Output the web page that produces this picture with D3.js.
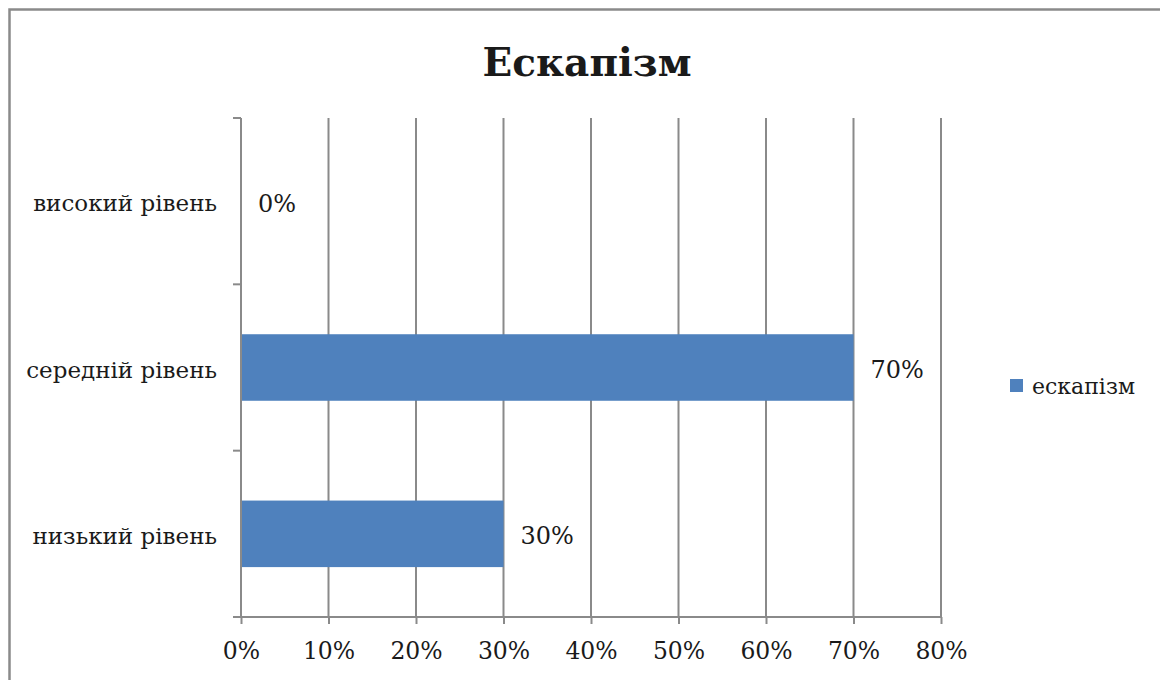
<!DOCTYPE html>
<html>
<head>
<meta charset="utf-8">
<script src="https://cdn.jsdelivr.net/npm/d3@7"></script>
<style>
  html, body { margin: 0; padding: 0; background: #fff; }
  svg { display: block; }
  text { font-family: "DejaVu Serif", "Liberation Serif", serif; fill: #1a1a1a; }
</style>
</head>
<body>
<svg id="chart" width="1160" height="680"></svg>
<script>
// Chart data
const title = "Ескапізм";
const seriesName = "ескапізм";
const categories = ["високий рівень", "середній рівень", "низький рівень"];
const values = [0, 0.70, 0.30];
const tickValues = [0, 0.1, 0.2, 0.3, 0.4, 0.5, 0.6, 0.7, 0.8];

const W = 1160, H = 680;
const plot = { left: 241, right: 941, top: 118, bottom: 617 };
const gridColor = "#8a8a8a";
const barColor = "#4f81bd";
const pct = d3.format(".0%");

const svg = d3.select("#chart");

// Outer frame
svg.append("rect")
  .attr("x", 9.5).attr("y", 9.5)
  .attr("width", W + 20).attr("height", H + 20)
  .attr("fill", "#fff")
  .attr("stroke", gridColor)
  .attr("stroke-width", 2.5);

const x = d3.scaleLinear().domain([0, 0.8]).range([plot.left, plot.right]);
const y = d3.scaleBand().domain(categories).range([plot.top, plot.bottom]).padding(0);

// Vertical gridlines
svg.append("g").selectAll("line")
  .data(tickValues.slice(1))
  .join("line")
  .attr("x1", d => x(d)).attr("x2", d => x(d))
  .attr("y1", plot.top).attr("y2", plot.bottom)
  .attr("stroke", gridColor).attr("stroke-width", 2);

// Bars
const barH = y.bandwidth() * 0.4;
const rows = categories.map((c, i) => ({ c, v: values[i] }));
svg.append("g").selectAll("rect")
  .data(rows)
  .join("rect")
  .attr("x", x(0))
  .attr("y", d => y(d.c) + (y.bandwidth() - barH) / 2)
  .attr("width", d => x(d.v) - x(0))
  .attr("height", barH)
  .attr("fill", barColor);

// X axis
const xAxis = d3.axisBottom(x)
  .tickValues(tickValues)
  .tickFormat(pct)
  .tickSize(7)
  .tickPadding(18);
const gx = svg.append("g")
  .attr("transform", `translate(0,${plot.bottom})`)
  .call(xAxis);
gx.select(".domain").remove();
gx.selectAll(".tick line").attr("stroke", gridColor).attr("stroke-width", 2);
gx.selectAll(".tick text")
  .style("font-family", '"DejaVu Serif", serif')
  .style("font-size", "23.5px")
  .attr("fill", "#1a1a1a");
gx.append("line")
  .attr("x1", plot.left - 8).attr("x2", plot.right)
  .attr("y1", 0).attr("y2", 0)
  .attr("stroke", gridColor).attr("stroke-width", 2);

// Y axis (category boundaries as ticks)
const gy = svg.append("g");
const bounds = categories.map(c => y(c)).concat([plot.bottom]);
gy.append("line")
  .attr("x1", plot.left).attr("x2", plot.left)
  .attr("y1", plot.top).attr("y2", plot.bottom)
  .attr("stroke", gridColor).attr("stroke-width", 2);
gy.selectAll("line.tk")
  .data(bounds)
  .join("line")
  .attr("class", "tk")
  .attr("x1", plot.left - 8).attr("x2", plot.left)
  .attr("y1", d => d).attr("y2", d => d)
  .attr("stroke", gridColor).attr("stroke-width", 2);
gy.selectAll("text")
  .data(categories)
  .join("text")
  .attr("x", 217)
  .attr("y", d => y(d) + y.bandwidth() / 2 + 2)
  .attr("dy", "0.35em")
  .attr("text-anchor", "end")
  .style("font-size", "23px")
  .text(d => d);

// Value labels
svg.append("g").selectAll("text")
  .data(rows)
  .join("text")
  .attr("x", d => x(d.v) + 17)
  .attr("y", d => y(d.c) + y.bandwidth() / 2 + 2)
  .attr("dy", "0.35em")
  .style("font-size", "24px")
  .text(d => pct(d.v));

// Title
svg.append("text")
  .attr("x", 587).attr("y", 76)
  .attr("text-anchor", "middle")
  .style("font-size", "39px")
  .style("font-weight", "bold")
  .text(title);

// Legend
const lg = svg.append("g").attr("transform", "translate(1010,379)");
lg.append("rect").attr("width", 13).attr("height", 13).attr("fill", barColor);
lg.append("text")
  .attr("x", 22).attr("y", 7).attr("dy", "0.35em")
  .style("font-size", "22px")
  .text(seriesName);
</script>
</body>
</html>
